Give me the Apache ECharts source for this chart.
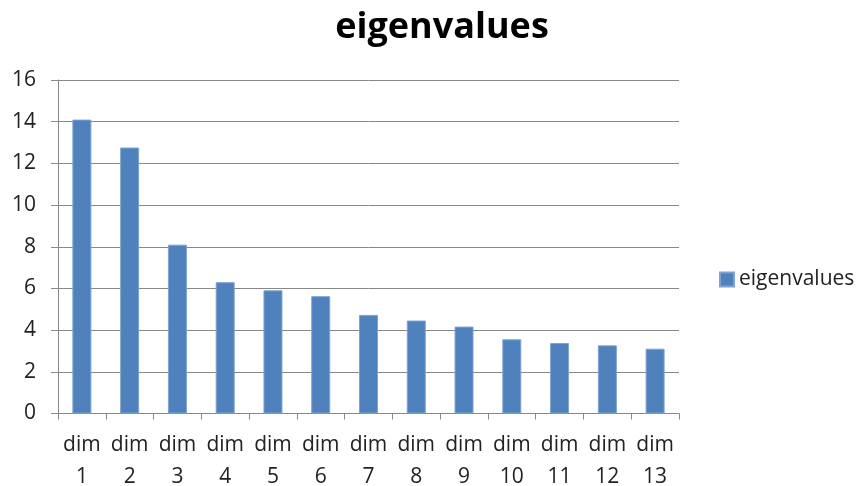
<!DOCTYPE html>
<html>
<head>
<meta charset="utf-8">
<script src="https://cdn.jsdelivr.net/npm/echarts@6/dist/echarts.min.js"></script>
<style>html,body{margin:0;padding:0;background:#fff}#c{width:857px;height:486px}</style>
</head>
<body>
<div id="c"></div>
<script>
const titleText = "eigenvalues";
const seriesName = "eigenvalues";
const categories = ["dim\n1","dim\n2","dim\n3","dim\n4","dim\n5","dim\n6","dim\n7","dim\n8","dim\n9","dim\n10","dim\n11","dim\n12","dim\n13"];
const values = [14.1, 12.76, 8.1, 6.3, 5.91, 5.63, 4.73, 4.46, 4.17, 3.56, 3.38, 3.27, 3.11];
const yMin = 0, yMax = 16, yStep = 2;

const chart = echarts.init(document.getElementById('c'), null, {renderer:'canvas'});
const font = "'Open Sans', sans-serif";
chart.setOption({
  animation:false,
  backgroundColor:'#fff',
  title:{text:titleText,left:437,top:5,textAlign:'center',
    textStyle:{fontFamily:font,fontSize:36,fontWeight:'bold',color:'#000'}},
  legend:{data:[seriesName],left:714,top:264,orient:'vertical',itemWidth:14,itemHeight:14,itemGap:6,
    icon:'rect',textStyle:{fontFamily:font,fontSize:21,color:'#222'}},
  grid:{left:58,top:80,right:178,bottom:72.5,containLabel:false,outerBoundsMode:'none'},
  xAxis:{type:'category',data:categories,
    axisLine:{lineStyle:{color:'#888',width:1}},
    axisTick:{show:true,length:6,alignWithLabel:false,lineStyle:{color:'#888'}},
    axisLabel:{fontFamily:font,fontSize:21,color:'#222',lineHeight:32,margin:16,interval:0}},
  yAxis:{type:'value',min:yMin,max:yMax,interval:yStep,
    axisLine:{show:true,lineStyle:{color:'#888'}},
    axisTick:{show:true,length:7,lineStyle:{color:'#888'}},
    splitLine:{lineStyle:{color:'#888',width:1}},
    axisLabel:{fontFamily:font,fontSize:21,color:'#222',margin:22}},
  series:[{name:seriesName,type:'bar',data:values,barWidth:19,
    itemStyle:{color:'#4F81BD',borderColor:'#7FA3D0',borderWidth:1}}]
});
</script>
</body>
</html>
